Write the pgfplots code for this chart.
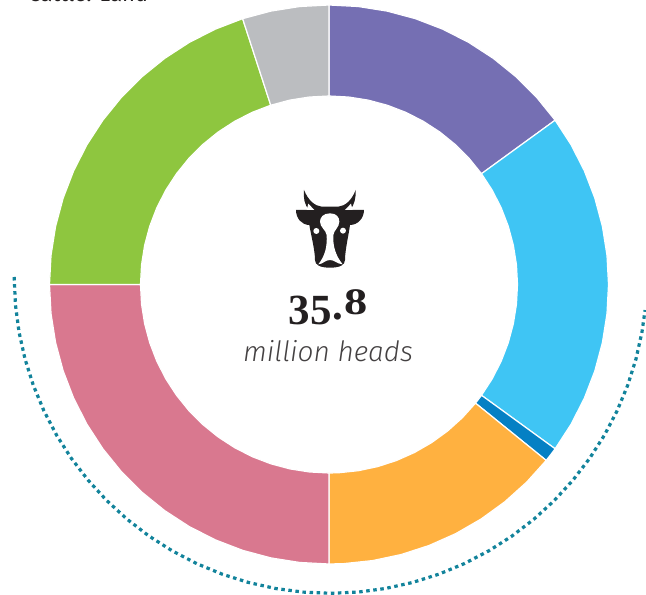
\documentclass[border=0pt]{standalone}
\usepackage{fontspec}
\usepackage{graphicx}
\usepackage{pgfplots}
\pgfplotsset{compat=1.18}
\newfontfamily\numfont{Liberation Serif}
\newfontfamily\labelfont[ItalicFont={Fira Sans Light Italic}]{Fira Sans}
\definecolor{cPurple}{HTML}{756FB3}
\definecolor{cBlue}{HTML}{3FC5F4}
\definecolor{cDeep}{HTML}{0580C4}
\definecolor{cOrange}{HTML}{FFB140}
\definecolor{cPink}{HTML}{D9788F}
\definecolor{cGreen}{HTML}{8EC63F}
\definecolor{cGrey}{HTML}{BBBDC0}
\definecolor{cTeal}{HTML}{12839B}
\definecolor{cInk}{HTML}{231F20}
\begin{document}
\begin{tikzpicture}
\path[clip,use as bounding box] (0,0) rectangle (646pt,595pt);
\begin{axis}[
    scale only axis,
    width=646pt,
    height=595pt,
    hide axis,
    clip=false,
    xmin=-329, xmax=317,
    ymin=-310.5, ymax=284.5,
    slice/.style={draw=white, line width=1.2pt, data cs=polar},
]
% purple, 15 %
\addplot[slice, fill=cPurple] coordinates {
    (90,279.5) (84,279.5) (78,279.5) (72,279.5) (66,279.5) (60,279.5) (54,279.5) (48,279.5) (42,279.5) (36,279.5)
    (36,188.5) (42,188.5) (48,188.5) (54,188.5) (60,188.5) (66,188.5) (72,188.5) (78,188.5) (84,188.5) (90,188.5)
} --cycle;
% light blue, 20 %
\addplot[slice, fill=cBlue] coordinates {
    (36,279.5) (30,279.5) (24,279.5) (18,279.5) (12,279.5) (6,279.5) (0,279.5) (-6,279.5) (-12,279.5) (-18,279.5) (-24,279.5) (-30,279.5) (-36,279.5)
    (-36,188.5) (-30,188.5) (-24,188.5) (-18,188.5) (-12,188.5) (-6,188.5) (0,188.5) (6,188.5) (12,188.5) (18,188.5) (24,188.5) (30,188.5) (36,188.5)
} --cycle;
% dark blue, thin slice
\addplot[slice, fill=cDeep] coordinates {
    (-36,279.5) (-37.5,279.5) (-39,279.5)
    (-39,188.5) (-37.5,188.5) (-36,188.5)
} --cycle;
% orange
\addplot[slice, fill=cOrange] coordinates {
    (-39,279.5) (-45,279.5) (-51,279.5) (-57,279.5) (-63,279.5) (-69,279.5) (-75,279.5) (-81,279.5) (-87,279.5) (-90,279.5)
    (-90,188.5) (-87,188.5) (-81,188.5) (-75,188.5) (-69,188.5) (-63,188.5) (-57,188.5) (-51,188.5) (-45,188.5) (-39,188.5)
} --cycle;
% pink, 25 %
\addplot[slice, fill=cPink] coordinates {
    (-90,279.5) (-96,279.5) (-102,279.5) (-108,279.5) (-114,279.5) (-120,279.5) (-126,279.5) (-132,279.5) (-138,279.5) (-144,279.5) (-150,279.5) (-156,279.5) (-162,279.5) (-168,279.5) (-174,279.5) (-180,279.5)
    (-180,188.5) (-174,188.5) (-168,188.5) (-162,188.5) (-156,188.5) (-150,188.5) (-144,188.5) (-138,188.5) (-132,188.5) (-126,188.5) (-120,188.5) (-114,188.5) (-108,188.5) (-102,188.5) (-96,188.5) (-90,188.5)
} --cycle;
% green, 20 %
\addplot[slice, fill=cGreen] coordinates {
    (180,279.5) (174,279.5) (168,279.5) (162,279.5) (156,279.5) (150,279.5) (144,279.5) (138,279.5) (132,279.5) (126,279.5) (120,279.5) (114,279.5) (108,279.5)
    (108,188.5) (114,188.5) (120,188.5) (126,188.5) (132,188.5) (138,188.5) (144,188.5) (150,188.5) (156,188.5) (162,188.5) (168,188.5) (174,188.5) (180,188.5)
} --cycle;
% grey, 5 %
\addplot[slice, fill=cGrey] coordinates {
    (108,279.5) (102,279.5) (96,279.5) (90,279.5)
    (90,188.5) (96,188.5) (102,188.5) (108,188.5)
} --cycle;
% dotted arc under the ring, slightly off centre
\addplot[cTeal, line width=3.2pt, dash pattern=on 3.5pt off 3.6pt, data cs=polar, shift={(1.5pt,7.5pt)}] coordinates {
    (180,316.3) (185,316.3) (190,316.3) (195,316.3) (200,316.3) (205,316.3) (210,316.3) (215,316.3) (220,316.3)
    (225,316.3) (230,316.3) (235,316.3) (240,316.3) (245,316.3) (250,316.3) (255,316.3) (260,316.3) (265,316.3)
    (270,316.3) (275,316.3) (280,316.3) (285,316.3) (290,316.3) (295,316.3) (300,316.3) (305,316.3) (310,316.3)
    (315,316.3) (320,316.3) (325,316.3) (330,316.3) (335,316.3) (340,316.3) (345,316.3) (350,316.3) (354,316.3)
};
\end{axis}
% texts, positions in pixels from the top left
\begin{scope}[x=1pt,y=-1pt,shift={(0,595pt)}]
\node[anchor=base west, inner sep=0, text=cInk, font=\labelfont\fontsize{22}{26}\selectfont] at (28,1.5) {Cattle: Land};
% old style figures by hand: 3 and 5 sit low, the 8 stands high
\node[anchor=base, inner sep=0, text=cInk, font=\numfont\bfseries\fontsize{43}{48}\selectfont] at (328,325) {3\kern1.5pt 5\raisebox{5pt}{.}\kern1.5pt\raisebox{10pt}{\scalebox{1.08}[0.87]{8}}};
\node[anchor=base, inner sep=0, text=cInk!85, font=\labelfont\itshape\fontsize{28}{32}\selectfont] at (328,362) {million heads};
\end{scope}
% cow head icon
\begin{scope}[x=0.3333pt,y=-0.3333pt,shift={(270pt,425pt)}]
\fill[cInk] (102,60) .. controls (100,85) and (103,105) .. (118,120) -- (78,120)
    .. controls (78,145) and (95,165) .. (118,165)
    .. controls (122,190) and (135,240) .. (135,270)
    .. controls (135,285) and (150,293) .. (180,293)
    .. controls (210,293) and (225,285) .. (225,270)
    .. controls (225,240) and (237,190) .. (240,165)
    .. controls (263,165) and (282,145) .. (282,120) -- (240,120)
    .. controls (253,105) and (258,85) .. (257,60)
    .. controls (245,92) and (225,108) .. (205,110) -- (155,110)
    .. controls (135,108) and (115,92) .. (102,60) -- cycle;
\fill[white] (115,101) -- (110,120) -- (133,120) -- cycle;
\fill[white] (243,101) -- (225,120) -- (248,120) -- cycle;
\fill[white] (180,130) .. controls (160,130) and (150,142) .. (150,155)
    .. controls (150,172) and (168,180) .. (170,195)
    .. controls (172,230) and (165,258) .. (145,283)
    .. controls (160,282) and (165,270) .. (180,270)
    .. controls (195,270) and (200,282) .. (218,283)
    .. controls (198,258) and (188,230) .. (190,195)
    .. controls (192,180) and (208,172) .. (208,155)
    .. controls (208,142) and (200,130) .. (180,130) -- cycle;
\fill[white] (139,183) circle[radius=9];
\fill[white] (219,182) circle[radius=9];
\end{scope}
\end{tikzpicture}
\end{document}
